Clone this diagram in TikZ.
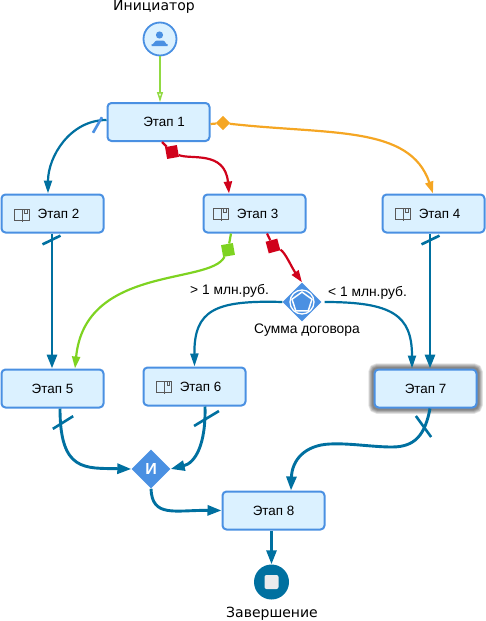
\documentclass[tikz,border=0pt]{standalone}
\usepackage{fontspec}
\setmainfont{Liberation Sans}
\newfontfamily\captfont{DejaVu Sans}
\usetikzlibrary{arrows.meta,shapes.geometric,backgrounds}
\definecolor{boxfill}{HTML}{DBF1FF}
\definecolor{boxline}{HTML}{4A90E2}
\definecolor{flowblue}{HTML}{0070A0}
\definecolor{flowred}{HTML}{D0021B}
\definecolor{floworange}{HTML}{F5A623}
\definecolor{flowgreen}{HTML}{7ED321}
\tikzset{
  stage/.style = {shape = rectangle, rounded corners = 4pt, draw = boxline, fill = boxfill,
                  line width = 2pt, minimum width = 102pt, minimum height = 38pt,
                  inner sep = 0pt, font = \fontsize{13.4}{15}\selectfont},
  marker/.style = {shape = rectangle, minimum size = 12pt, inner sep = 0pt},
  stroke/.style = {shape = rectangle, minimum width = 20pt, minimum height = 2.6pt,
                   inner sep = 0pt, fill = flowblue},
  flow/.style = {draw = flowblue, line width = 2.9pt,
                 -{Triangle[length = 14pt, width = 10pt]}},
  thinflow/.style = {draw = flowblue, line width = 2.2pt,
                     -{Triangle[length = 13pt, width = 8pt]}},
  colorflow/.style = {line width = 2.2pt, -{Triangle[length = 12pt, width = 8pt]}},
  caption/.style = {font = \captfont\fontsize{14}{16}\selectfont, inner sep = 0pt},
  note/.style = {font = \fontsize{13.8}{15}\selectfont, inner sep = 0pt},
  bookicon/.pic = {
    \draw [line width = 0.7pt, draw = black!65]
          (-7.5, -5.5) rectangle (7.5, 6)
          (0.5, -5.5) -- (0.5, 7)
          (3, -5.5) -- (3, -1.5) -- (5.5, -1.5) -- (5.5, -5.5);
  }
}
\begin{document}
\begin{tikzpicture}[x = 1pt, y = -1pt]
  \useasboundingbox (0, 0) rectangle (486, 621);

  % events
  \node (start) [shape = circle, draw = boxline, fill = boxfill, line width = 1.8pt,
                 minimum size = 33pt, inner sep = 0pt] at (160, 39) {};
  \node (finish) [shape = circle, fill = flowblue, minimum size = 35pt,
                  inner sep = 0pt] at (271.5, 582) {};
  \node (stopbox) [shape = rectangle, rounded corners = 2pt, fill = blue!5!gray!15,
                   minimum size = 14pt, inner sep = 0pt] at (271.5, 582) {};
  \fill [boxline] (159.5, 35) circle (3.6);
  \fill [boxline] (151.5, 46) -- (151.5, 44) to [out = -60, in = 180] (157, 40.5)
                  -- (163, 40.5) to [out = 0, in = -120] (167.5, 44) -- (167.5, 46) -- cycle;
  \node (startname) [caption] at (154, 7) {Инициатор};
  \node (finishname) [caption] at (272, 614) {Завершение};

  % stages
  \node (s1) [stage] at (158.5, 122) {\hspace{11pt}Этап 1};
  \node (s2) [stage] at (52.5, 213.5) {\hspace{12pt}Этап 2};
  \node (s3) [stage] at (254.5, 213.5) {\hspace{6pt}Этап 3};
  \node (s4) [stage] at (433.5, 213.5) {\hspace{12pt}Этап 4};
  \node (s5) [stage] at (52.5, 388.5) {Этап 5};
  \node (s6) [stage] at (194.5, 386.5) {\hspace{12pt}Этап 6};
  \node (s7) [stage] at (425.5, 388.5) {Этап 7};
  \node (s8) [stage] at (273.5, 510.5) {Этап 8};
  \pic at (21.5, 214.5) {bookicon};
  \pic at (220.5, 213.5) {bookicon};
  \pic at (402.5, 213.5) {bookicon};
  \pic at (164, 386.5) {bookicon};
  \begin{scope}[on background layer]
    \foreach \w in {10.5, 9, 7.5, 6, 4.5, 3}
      \draw [black, line width = \w pt, opacity = 0.1, rounded corners = 4pt]
            (s7.south west) rectangle (s7.north east);
  \end{scope}

  % gateways
  \node (gand) [shape = diamond, fill = boxline, aspect = 1, minimum size = 39pt,
                inner sep = 0pt, text = white, font = \bfseries\fontsize{16}{16}\selectfont]
        at (151, 469) {И};
  \node (gsum) [shape = diamond, fill = boxline, aspect = 1, minimum size = 39pt,
                inner sep = 0pt] at (302, 302) {};
  \node (gring) [shape = circle, draw = white, line width = 1.3pt, minimum size = 24pt,
                 inner sep = 0pt] at (302, 302) {};
  \node (gpent) [shape = regular polygon, regular polygon sides = 5, draw = white,
                 line width = 1.5pt, minimum size = 21pt, inner sep = 0pt] at (302, 302.5) {};
  \node (gname) [note] at (307, 330) {Сумма договора};
  \node (gmore) [note] at (229.5, 291) {> 1 млн.руб.};
  \node (gless) [note] at (367.5, 292.5) {< 1 млн.руб.};

  % condition markers
  \node (m1) [marker, fill = flowred, rotate = 10] at (172, 152) {};
  \node (m2) [marker, fill = floworange, rotate = 45, minimum size = 10pt] at (223, 123) {};
  \node (m3) [marker, fill = flowgreen, rotate = 10] at (228, 250) {};
  \node (m4) [marker, fill = flowred, rotate = 15] at (273, 246) {};

  % connectors
  \draw [draw = flowgreen!85!white, line width = 1.5pt, -{Triangle[open, length = 10pt, width = 6pt]}]
        (start) -- (s1.north -| start);
  \draw [thinflow] ([yshift = 2pt]s1.west) to [out = 180, in = 90] ([xshift = -4.5pt]s2.north);
  \draw [draw = flowred, line width = 2.2pt] ([xshift = 3.5pt]s1.south) -- (m1);
  \draw [colorflow, draw = flowred] (m1) .. controls (190, 160) and (225, 150) .. ([xshift = -25.5pt]s3.north);
  \draw [draw = floworange, line width = 2.2pt] ([yshift = -2pt]s1.east) -- (m2);
  \draw [colorflow, draw = floworange] (m2) .. controls (330, 135) and (410, 125) .. ([xshift = -0.5pt]s4.north);
  \draw [flow] ([xshift = -0.5pt]s2.south) -- ([xshift = -0.5pt]s5.north);
  \draw [draw = flowgreen, line width = 2.2pt] ([xshift = -23.5pt]s3.south) -- (m3);
  \draw [colorflow, draw = flowgreen] (m3) .. controls (210, 285) and (85, 265) .. ([xshift = 22.5pt]s5.north);
  \draw [draw = flowred, line width = 2.2pt] ([xshift = 12.5pt]s3.south) -- (m4);
  \draw [colorflow, draw = flowred] (m4) .. controls (285, 252) and (292, 268) .. (gsum.north);
  \draw [thinflow] (gsum.west) .. controls (215, 300) and (194, 310) .. (s6.north);
  \draw [thinflow, shorten <= 3pt] (gsum.east) .. controls (392, 302) and (412, 315) .. ([xshift = -13.5pt]s7.north);
  \draw [flow] ([xshift = -3.5pt]s4.south) -- ([xshift = 4.5pt]s7.north);
  \draw [flow] ([xshift = 7.5pt]s5.south) .. controls (60, 472) and (85, 468) .. (gand.west);
  \draw [flow] ([xshift = 10.5pt]s6.south) .. controls (206, 445) and (195, 463) .. (gand.east);
  \draw [flow] (gand.south) .. controls (152, 518) and (175, 510) .. (s8.west);
  \draw [flow] ([xshift = 4.5pt]s7.south) .. controls (425, 435) and (415, 447) .. (392, 447)
                .. controls (372, 447) and (350, 443) .. (330, 444)
                .. controls (305, 445) and (292, 460) .. ([xshift = 17.5pt]s8.north);
  \draw [flow] ([xshift = -2pt]s8.south) -- (finish);

  % stroke marks on default flows
  \node (t1) [stroke, fill = boxline, rotate = 60, minimum width = 18pt] at (97.5, 125) {};
  \node (t2) [stroke, rotate = 26] at (51.5, 240) {};
  \node (t3) [stroke, rotate = 26] at (430.5, 240) {};
  \node (t4) [stroke, rotate = 32, minimum width = 24pt] at (63, 422.5) {};
  \node (t5) [stroke, rotate = 31, minimum width = 29pt] at (206.5, 418.5) {};
  \node (t6) [stroke, rotate = -54, minimum width = 26pt] at (423.5, 426.5) {};
\end{tikzpicture}
\end{document}
